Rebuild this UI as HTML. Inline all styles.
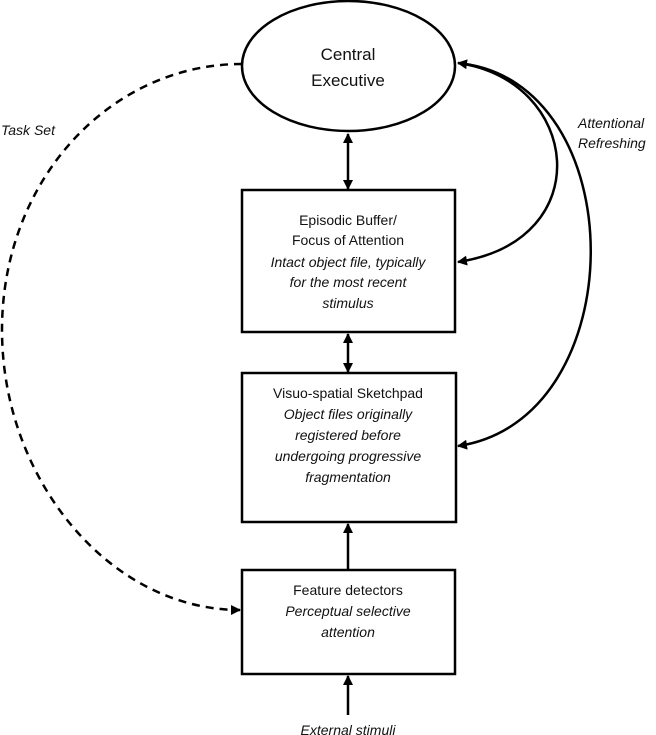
<!DOCTYPE html>
<html><head><meta charset="utf-8"><style>
html,body{margin:0;padding:0;background:#fff;}
svg{display:block;}
text{font-family:"Liberation Sans",sans-serif;fill:#111;}
.t{font-size:14px;text-anchor:middle;}
.i{font-style:italic;}
</style></head><body>
<svg width="656" height="735" viewBox="0 0 656 735" xmlns="http://www.w3.org/2000/svg">
<defs>
<marker id="a" markerWidth="10" markerHeight="10" refX="9" refY="5" orient="auto" markerUnits="userSpaceOnUse">
<path d="M0,0 L10,5 L0,10 z" fill="#000"/></marker>
<marker id="b" markerWidth="10" markerHeight="10" refX="1" refY="5" orient="auto" markerUnits="userSpaceOnUse">
<path d="M10,0 L0,5 L10,10 z" fill="#000"/></marker>
</defs>
<g fill="none" stroke="#000" stroke-width="2.5">
<ellipse cx="348.5" cy="66" rx="106.5" ry="65"/>
<rect x="242" y="190" width="213" height="142"/>
<rect x="242" y="373" width="214" height="149"/>
<rect x="242" y="570" width="213" height="104"/>
<line x1="348" y1="134" x2="348" y2="189" marker-start="url(#b)" marker-end="url(#a)"/>
<line x1="348" y1="334" x2="348" y2="372" marker-start="url(#b)" marker-end="url(#a)"/>
<line x1="348" y1="569" x2="348" y2="524" marker-end="url(#a)"/>
<line x1="348" y1="715" x2="348" y2="676" marker-end="url(#a)"/>
<path d="M458,262 C600,240 580,80 458,63" marker-start="url(#b)" marker-end="url(#a)"/>
<path d="M458,446 C635,420 635,80 458,63" marker-start="url(#b)"/>
<path d="M242,64 C110,64 2,180 2,330 C2,480 110,610 240,610" stroke-dasharray="8,6" marker-end="url(#a)"/>
</g>
<text x="348" y="60" style="font-size:17px;text-anchor:middle">Central</text>
<text x="348" y="86" style="font-size:17px;text-anchor:middle">Executive</text>
<text class="t" x="348" y="225">Episodic Buffer/</text>
<text class="t" x="348" y="245">Focus of Attention</text>
<text class="t i" x="348" y="267">Intact object file, typically</text>
<text class="t i" x="348" y="287">for the most recent</text>
<text class="t i" x="348" y="308">stimulus</text>
<text class="t" x="348" y="398">Visuo-spatial Sketchpad</text>
<text class="t i" x="348" y="419">Object files originally</text>
<text class="t i" x="348" y="440">registered before</text>
<text class="t i" x="348" y="461">undergoing progressive</text>
<text class="t i" x="348" y="482">fragmentation</text>
<text class="t" x="348" y="595">Feature detectors</text>
<text class="t i" x="348" y="616">Perceptual selective</text>
<text class="t i" x="348" y="637">attention</text>
<text class="t i" x="348" y="735">External stimuli</text>
<text class="i" x="1" y="135" style="font-size:14px">Task Set</text>
<text class="i" x="578" y="128" style="font-size:14px">Attentional</text>
<text class="i" x="578" y="148" style="font-size:14px">Refreshing</text>
</svg>
</body></html>
